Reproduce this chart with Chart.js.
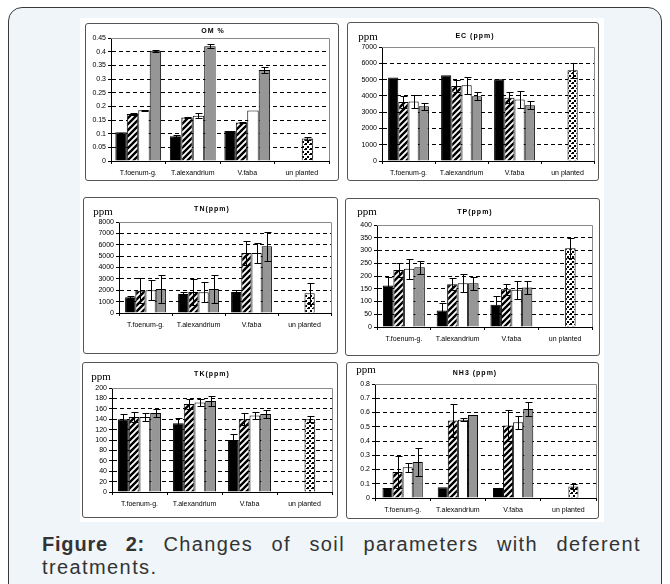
<!DOCTYPE html>
<html>
<head>
<meta charset="utf-8">
<script src="https://cdn.jsdelivr.net/npm/chart.js@4.4.0/dist/chart.umd.min.js"></script>
<style>
html, body { margin: 0; padding: 0; background: #fff; width: 670px; height: 584px; overflow: hidden; font-family: "Liberation Sans", Arial, sans-serif; }
#box { position: absolute; left: 8px; top: 7px; width: 652px; height: 620px; border: 1.5px solid #3a3a3a; border-radius: 14px; background: #eff5f9; }
#sheet { position: absolute; left: 80px; top: 18px; width: 524px; height: 504px; background: #fff; }
.panel { position: absolute; box-sizing: border-box; border: 1px solid #555; border-radius: 3px; overflow: hidden; background: #fff; }
.panel canvas { position: absolute; left: -1px; top: -1px; }
.ttl { position: absolute; font: bold 7px "Liberation Sans", Arial, sans-serif; letter-spacing: 1px; transform: translate(-50%, -50%); white-space: nowrap; color: #000; }
.unit { position: absolute; font: 11px "Liberation Serif", serif; transform: translate(-50%, -50%); color: #000; }
#cap { position: absolute; left: 42px; top: 533px; width: 599px; font-size: 20px; line-height: 23px; color: #333; letter-spacing: 1.4px; }
#cap b { letter-spacing: 0.8px; }
#cap .l1 { text-align: justify; text-align-last: justify; white-space: nowrap; }
</style>
</head>
<body>
<div id="box"></div>
<div id="sheet"></div>
<div id="cap">
  <div class="l1"><b>Figure 2:</b> Changes of soil parameters with deferent</div>
  <div>treatments.</div>
</div>
<script>
// categories shared by every panel
const categories = ['T.foenum-g.', 'T.alexandrium', 'V.faba', 'un planted'];

// OM %
const omTicks = [0, 0.05, 0.1, 0.15, 0.2, 0.25, 0.3, 0.35, 0.4, 0.45];
const omBlack = [0.105, 0.091, 0.110, null];
const omHatch = [0.172, 0.159, 0.141, null];
const omWhite = [0.186, 0.166, 0.185, 0.082];
const omGray = [0.403, 0.420, 0.333, null];
const omErrBlack = [0, 0.004, 0, null];
const omErrHatch = [0.002, 0.002, 0.002, null];
const omErrWhite = [0.002, 0.008, 0, 0.004];
const omErrGray = [0.004, 0.007, 0.01, null];

// EC (ppm)
const ecTicks = [0, 1000, 2000, 3000, 4000, 5000, 6000, 7000];
const ecBlack = [5120, 5260, 5020, null];
const ecHatch = [3620, 4600, 3890, null];
const ecWhite = [3660, 4650, 3770, 5570];
const ecGray = [3360, 3970, 3420, null];
const ecErrBlack = [0, 0, 0, null];
const ecErrHatch = [350, 370, 340, null];
const ecErrWhite = [380, 530, 510, 450];
const ecErrGray = [200, 245, 245, null];

// TN (ppm)
const tnTicks = [0, 1000, 2000, 3000, 4000, 5000, 6000, 7000, 8000];
const tnBlack = [1380, 1670, 1850, null];
const tnHatch = [1960, 1850, 5280, null];
const tnWhite = [1990, 1820, 5280, 1730];
const tnGray = [2110, 2110, 5860, null];
const tnErrBlack = [100, 150, 150, null];
const tnErrHatch = [1110, 1140, 1030, null];
const tnErrWhite = [880, 890, 880, 900];
const tnErrGray = [1250, 1250, 1250, null];

// TP (ppm)
const tpTicks = [0, 50, 100, 150, 200, 250, 300, 350, 400];
const tpBlack = [163, 65, 87, null];
const tpHatch = [224, 168, 148, null];
const tpWhite = [228, 172, 146, 309];
const tpGray = [234, 172, 155, null];
const tpErrBlack = [35, 31, 33, null];
const tpErrHatch = [26, 24, 22, null];
const tpErrWhite = [39, 36, 36, 39];
const tpErrGray = [26, 26, 24, null];

// TK (ppm)
const tkTicks = [0, 20, 40, 60, 80, 100, 120, 140, 160, 180, 200];
const tkBlack = [140, 132, 100, null];
const tkHatch = [144, 169, 140, null];
const tkWhite = [144, 172, 147, 140];
const tkGray = [152, 175, 150, null];
const tkErrBlack = [10, 11, 11, null];
const tkErrHatch = [9, 10, 11, null];
const tkErrWhite = [8, 6, 6, 6];
const tkErrGray = [8, 10, 8, null];

// NH3 (ppm)
const nhTicks = [0, 0.1, 0.2, 0.3, 0.4, 0.5, 0.6, 0.7, 0.8];
const nhBlack = [0.07, 0.075, 0.07, null];
const nhHatch = [0.182, 0.543, 0.508, null];
const nhWhite = [0.215, 0.55, 0.531, 0.08];
const nhGray = [0.253, 0.582, 0.625, null];
const nhErrBlack = [0, 0, 0, null];
const nhErrHatch = [0.115, 0.117, 0.107, null];
const nhErrWhite = [0.03, 0.01, 0.045, 0.015];
const nhErrGray = [0.1, 0, 0.05, null];

// fill patterns
function makePattern(size, draw) {
    const c = document.createElement('canvas');
    c.width = size; c.height = size;
    const g = c.getContext('2d');
    g.fillStyle = '#fff';
    g.fillRect(0, 0, size, size);
    draw(g, size);
    return g.createPattern(c, 'repeat');
}
const hatch = makePattern(6, (g, s) => {
    g.strokeStyle = '#000';
    g.lineWidth = 2.4;
    g.beginPath();
    g.moveTo(-1, s + 1); g.lineTo(s + 1, -1);
    g.moveTo(-1, 1); g.lineTo(1, -1);
    g.moveTo(s - 1, s + 1); g.lineTo(s + 1, s - 1);
    g.stroke();
});
const dots = makePattern(5, (g) => {
    g.fillStyle = '#000';
    g.fillRect(0, 0, 2, 2);
    g.fillRect(2, 3, 2, 2);
    g.fillRect(4, 1, 1, 1);
});
const fills = ['#000', hatch, ctx => ctx.dataIndex === 3 ? dots : '#fff', '#969696'];

// gray plot frame + error bars
const plotDecor = {
    id: 'plotDecor',
    beforeDatasetsDraw(chart) {
        const { ctx, chartArea: a } = chart;
        ctx.save();
        ctx.strokeStyle = '#8a8a8a';
        ctx.lineWidth = 1;
        ctx.beginPath();
        ctx.moveTo(a.left, Math.round(a.top) + 0.5);
        ctx.lineTo(Math.round(a.right) + 0.5, Math.round(a.top) + 0.5);
        ctx.lineTo(Math.round(a.right) + 0.5, a.bottom);
        ctx.stroke();
        ctx.restore();
    },
    afterDatasetsDraw(chart) {
        const { ctx, chartArea: a, scales: { y } } = chart;
        ctx.save();
        ctx.strokeStyle = '#000';
        ctx.lineWidth = 1;
        chart.data.datasets.forEach((ds, di) => {
            const meta = chart.getDatasetMeta(di);
            ds.data.forEach((v, i) => {
                const e = ds.err[i];
                if (v == null || !e) return;
                const x = Math.round(meta.data[i].x) + 0.5;
                const top = Math.round(y.getPixelForValue(v + e)) + 0.5;
                const bot = Math.round(y.getPixelForValue(v - e)) + 0.5;
                ctx.beginPath();
                ctx.moveTo(x, top); ctx.lineTo(x, bot);
                ctx.moveTo(x - 3, top); ctx.lineTo(x + 4, top);
                ctx.moveTo(x - 3, bot); ctx.lineTo(x + 4, bot);
                ctx.stroke();
            });
        });
        // axis line over the bar bases
        ctx.beginPath();
        ctx.moveTo(a.left, Math.round(a.bottom) + 0.5);
        ctx.lineTo(a.right, Math.round(a.bottom) + 0.5);
        ctx.stroke();
        ctx.restore();
    }
};

Chart.defaults.font.family = '"Liberation Sans", Arial, sans-serif';

function buildPanel(p) {
    const [fx, fy, fw, fh] = p.frame;
    const [x0, y0, x1, y1] = p.plot;
    const wrap = document.createElement('div');
    wrap.className = 'panel';
    Object.assign(wrap.style, { left: fx + 'px', top: fy + 'px', width: fw + 'px', height: fh + 'px' });
    const cv = document.createElement('canvas');
    cv.width = fw; cv.height = fh;
    cv.style.width = fw + 'px'; cv.style.height = fh + 'px';
    wrap.appendChild(cv);
    document.body.appendChild(wrap);

    const ttl = document.createElement('div');
    ttl.className = 'ttl';
    ttl.textContent = p.title;
    ttl.style.left = p.titleAt[0] + 'px'; ttl.style.top = p.titleAt[1] + 'px';
    document.body.appendChild(ttl);
    if (p.unitAt) {
        const u = document.createElement('div');
        u.className = 'unit';
        u.textContent = 'ppm';
        u.style.left = p.unitAt[0] + 'px'; u.style.top = p.unitAt[1] + 'px';
        document.body.appendChild(u);
    }

    const ymax = p.ticks[p.ticks.length - 1];
    new Chart(cv, {
        type: 'bar',
        data: {
            labels: categories,
            datasets: p.series.map((s, i) => ({
                data: s,
                err: p.errors[i],
                backgroundColor: fills[i],
                borderColor: '#000',
                borderWidth: 1,
                barPercentage: 1,
                categoryPercentage: p.cat
            }))
        },
        options: {
            responsive: false,
            animation: false,
            devicePixelRatio: 1,
            layout: { padding: { left: 0, top: y0 - fy, right: fx + fw - x1, bottom: 0 } },
            plugins: { legend: { display: false }, tooltip: { enabled: false } },
            scales: {
                x: {
                    afterFit: s => { s.height = fy + fh - y1; },
                    grid: { drawOnChartArea: false, drawTicks: true, tickLength: 3, color: '#000', offset: true },
                    border: { color: '#000', width: 1 },
                    ticks: { font: { size: 7 }, color: '#000', padding: 5, autoSkip: false, maxRotation: 0, minRotation: 0 }
                },
                y: {
                    min: 0,
                    max: ymax,
                    afterBuildTicks: s => { s.ticks = p.ticks.map(v => ({ value: v })); },
                    afterFit: s => { s.width = x0 - fx; },
                    grid: {
                        color: c => (c.tick && c.tick.value > 0 && c.tick.value < ymax) ? '#000' : 'rgba(0,0,0,0)',
                        tickColor: '#000',
                        tickLength: 3,
                        lineWidth: 1
                    },
                    border: { display: true, color: '#000', width: 1, dash: [4, 3] },
                    ticks: { font: { size: 7 }, color: '#000', padding: 2, autoSkip: false, callback: v => String(v) }
                }
            }
        },
        plugins: [plotDecor]
    });
}

const panels = [
    { title: 'OM  %', titleAt: [213, 30], unitAt: null, frame: [85, 23, 254, 158], plot: [111, 38, 329, 161], cat: 0.84,
      ticks: omTicks, series: [omBlack, omHatch, omWhite, omGray], errors: [omErrBlack, omErrHatch, omErrWhite, omErrGray] },
    { title: 'EC (ppm)', titleAt: [475, 35], unitAt: [368, 36], frame: [347, 22, 252, 159], plot: [382, 47, 594, 161], cat: 0.77,
      ticks: ecTicks, series: [ecBlack, ecHatch, ecWhite, ecGray], errors: [ecErrBlack, ecErrHatch, ecErrWhite, ecErrGray] },
    { title: 'TN(ppm)', titleAt: [212, 208], unitAt: [103, 211], frame: [83, 197, 255, 157], plot: [119, 222, 331, 313], cat: 0.77,
      ticks: tnTicks, series: [tnBlack, tnHatch, tnWhite, tnGray], errors: [tnErrBlack, tnErrHatch, tnErrWhite, tnErrGray] },
    { title: 'TP(ppm)', titleAt: [475, 211], unitAt: [367, 211], frame: [345, 198, 255, 158], plot: [377, 225, 592, 327], cat: 0.78,
      ticks: tpTicks, series: [tpBlack, tpHatch, tpWhite, tpGray], errors: [tpErrBlack, tpErrHatch, tpErrWhite, tpErrGray] },
    { title: 'TK(ppm)', titleAt: [212, 373], unitAt: [101, 376], frame: [82, 362, 256, 156], plot: [112, 388, 332, 492], cat: 0.78,
      ticks: tkTicks, series: [tkBlack, tkHatch, tkWhite, tkGray], errors: [tkErrBlack, tkErrHatch, tkErrWhite, tkErrGray] },
    { title: 'NH3 (ppm)', titleAt: [475, 372], unitAt: [366, 369], frame: [346, 362, 253, 157], plot: [375, 384, 596, 498], cat: 0.73,
      ticks: nhTicks, series: [nhBlack, nhHatch, nhWhite, nhGray], errors: [nhErrBlack, nhErrHatch, nhErrWhite, nhErrGray] }
];
panels.forEach(buildPanel);
</script>
</body>
</html>
